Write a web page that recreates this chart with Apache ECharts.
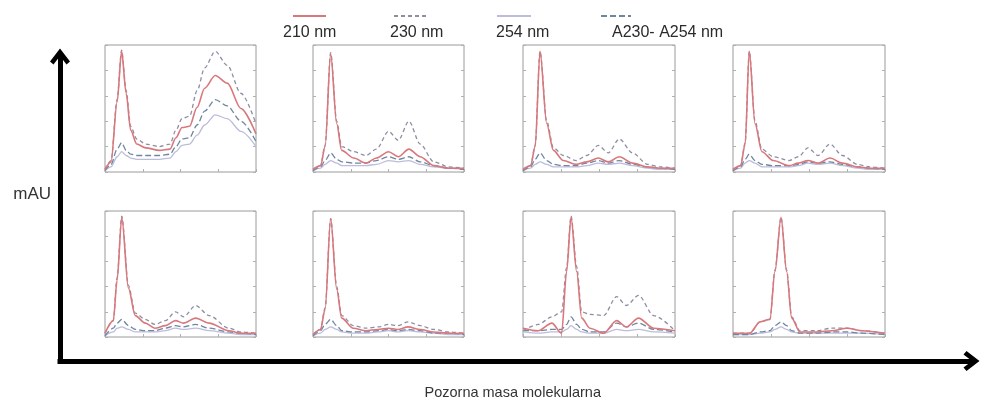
<!DOCTYPE html>
<html lang="en">
<head>
<meta charset="UTF-8">
<script src="https://cdn.jsdelivr.net/npm/echarts@6/dist/echarts.min.js"></script>
<title>mAU</title>
<style>html,body{margin:0;padding:0;background:#fff;}</style>
</head>
<body>
<div id="main" style="width:984px;height:405px;"></div>
<script type="text/javascript">
var seriesNames = ['210 nm', '230 nm', '254 nm', 'A230- A254 nm'];

// panel 1 (gore lijevo)
var x1 = [0, 4, 8, 11, 14, 17, 21, 27, 36, 43, 47, 51, 56, 61, 66, 73, 81, 90, 100];
var r1 = [2, 8, 55, 95, 62, 33, 22, 19, 17, 18, 27, 35, 36, 51, 66, 76, 70, 50, 30];
var g1 = [2, 9, 57, 96, 64, 36, 26, 22, 20, 22, 33, 42, 44, 64, 82, 95, 84, 62, 38];
var l1 = [1, 4, 12, 16, 13, 11, 10, 10, 10, 11, 16, 21, 22, 29, 37, 45, 42, 32, 20];
var d1 = [1, 6, 18, 23, 17, 14, 13, 13, 13, 14, 20, 26, 27, 37, 48, 57, 52, 40, 24];
// panel 2
var x2 = [0, 5, 8, 11.7, 15.7, 19, 27, 35, 42, 50, 56.5, 63.5, 71, 80, 90, 100];
var r2 = [2, 5, 20, 93, 38, 17, 11, 7, 11, 16, 12, 18, 12, 5, 3, 3];
var g2 = [2, 5, 21, 94, 40, 20, 16, 13, 18, 32, 25, 40, 22, 8, 4, 3];
var l2 = [1, 3, 6, 9, 7, 5, 5, 5, 6, 9, 8, 9, 6, 4, 3, 2];
var d2 = [1, 4, 9, 15, 10, 8, 7, 7, 9, 12, 10, 12, 8, 5, 3, 2];
// panel 3
var x3 = [0, 5, 8, 11.2, 15.6, 20, 26.5, 35, 42, 49.6, 56, 63.4, 72, 82, 90, 100];
var r3 = [2, 5, 20, 95, 38, 17, 9, 6, 8, 11, 8, 12, 7, 4, 3, 3];
var g3 = [2, 5, 21, 95, 40, 19, 13, 9, 13, 21, 15, 26, 15, 6, 4, 3];
var l3 = [1, 3, 6, 8, 6, 4, 4, 4, 5, 7, 6, 7, 5, 3, 2, 2];
var d3 = [1, 4, 10, 15, 9, 6, 5, 5, 7, 9, 7, 9, 6, 4, 3, 2];
// panel 4
var x4 = [0, 5, 8, 10.7, 14.5, 19, 26.5, 37, 43, 49.3, 56, 63.8, 72, 82, 90, 100];
var r4 = [2, 5, 22, 95, 38, 16, 9, 5, 7, 9, 7, 11, 7, 4, 3, 3];
var g4 = [2, 5, 23, 95, 40, 18, 12, 9, 12, 19, 13, 22, 13, 6, 4, 3];
var l4 = [1, 3, 7, 9, 7, 4, 4, 4, 5, 7, 6, 7, 5, 3, 2, 2];
var d4 = [1, 4, 10, 14, 9, 6, 5, 5, 6, 8, 7, 8, 6, 4, 3, 2];
// panel 5 (dolje lijevo)
var x5 = [0, 5.5, 8, 11.1, 15.5, 20, 26.7, 33, 40, 46.7, 52, 60, 69, 82, 90, 100];
var r5 = [3, 13, 45, 95, 39, 17, 11, 7, 9, 13, 11, 15, 11, 5, 3, 3];
var g5 = [3, 13, 47, 96, 41, 19, 14, 10, 13, 20, 16, 25, 17, 7, 4, 3];
var l5 = [1, 4, 7, 8, 6, 4, 4, 4, 5, 7, 6, 7, 5, 3, 2, 2];
var d5 = [1, 7, 11, 14, 9, 6, 5, 5, 7, 9, 8, 10, 7, 4, 3, 2];
// panel 6
var x6 = [0, 5, 8, 11.7, 15.7, 19, 26.7, 35, 43, 50, 56, 63, 71, 80, 90, 100];
var r6 = [2, 6, 22, 94, 38, 15, 7, 5, 6, 7, 6, 8, 6, 4, 3, 3];
var g6 = [2, 6, 23, 94, 40, 17, 9, 7, 8, 10, 9, 12, 9, 6, 4, 3];
var l6 = [1, 3, 6, 8, 6, 4, 3, 3, 4, 5, 4, 5, 4, 3, 2, 2];
var d6 = [1, 5, 10, 14, 9, 5, 4, 4, 5, 6, 5, 6, 5, 3, 3, 2];
// panel 7
var x7 = [0, 10, 19, 25.4, 28.7, 31.6, 35.3, 38.6, 44, 53, 61.6, 68, 76, 86, 100];
var r7 = [7, 5, 11, 3, 52, 95, 52, 15, 7, 3, 13, 8, 15, 7, 5];
var g7 = [5, 10, 16, 20, 55, 96, 56, 20, 18, 17, 32, 25, 33, 17, 5];
var l7 = [4, 3, 4, 4, 6, 9, 6, 4, 3, 3, 6, 5, 6, 4, 3];
var d7 = [5, 5, 6, 6, 10, 16, 10, 6, 4, 4, 11, 8, 11, 6, 4];
// panel 8
var x8 = [0, 11, 17.8, 24.3, 27.6, 31.6, 35.3, 38.6, 44, 55, 65, 75, 85, 100];
var r8 = [3, 3, 12, 14, 52, 95, 52, 15, 4, 4, 5, 7, 5, 3];
var g8 = [3, 3, 12, 14, 53, 95, 53, 16, 5, 5, 7, 7, 5, 3];
var l8 = [2, 2, 3, 4, 6, 8, 6, 4, 3, 3, 3, 3, 3, 2];
var d8 = [2, 2, 4, 5, 9, 12, 9, 5, 3, 3, 4, 4, 3, 2];

var panels = [
    {x: x1, y: [r1, g1, l1, d1]},
    {x: x2, y: [r2, g2, l2, d2]},
    {x: x3, y: [r3, g3, l3, d3]},
    {x: x4, y: [r4, g4, l4, d4]},
    {x: x5, y: [r5, g5, l5, d5]},
    {x: x6, y: [r6, g6, l6, d6]},
    {x: x7, y: [r7, g7, l7, d7]},
    {x: x8, y: [r8, g8, l8, d8]}
];

var colors = ['#d9787c', '#8e8ea2', '#bcbcdc', '#6f86a0'];
var dashes = ['solid', [4, 3], 'solid', [6, 3]];
var zs = [5, 4, 2, 3];
var fontFam = '"Liberation Sans", Arial, sans-serif';

var colLeft = [105, 313, 523, 733];
var colWidth = [151, 151, 152, 152];
var rowTop = [45, 211];
var rowHeight = [127, 126];

var tickStyle = {show: true, inside: true, length: 3, lineStyle: {color: '#b0b0b0'}};
var grids = [], xAxes = [], yAxes = [], rightAxes = [], series = [];
for (var p = 0; p < panels.length; p++) {
    var c = p % 4, r = Math.floor(p / 4);
    grids.push({
        left: colLeft[c], top: rowTop[r], width: colWidth[c], height: rowHeight[r],
        show: true, borderColor: '#9a9a9a', borderWidth: 1
    });
    xAxes.push({
        type: 'value', gridIndex: p, min: 0, max: 100, interval: 25,
        axisLine: {show: false}, axisTick: tickStyle,
        axisLabel: {show: false}, splitLine: {show: false}
    });
    yAxes.push({
        type: 'value', gridIndex: p, min: 0, max: 100, interval: 20,
        axisLine: {show: false}, axisTick: tickStyle,
        axisLabel: {show: false}, splitLine: {show: false}
    });
    // kvacice na desnom rubu
    rightAxes.push({
        type: 'value', gridIndex: p, position: 'right', min: 0, max: 100, interval: 20,
        axisLine: {show: false}, axisTick: tickStyle,
        axisLabel: {show: false}, splitLine: {show: false}
    });
    for (var s = 0; s < 4; s++) {
        var pts = [];
        for (var i = 0; i < panels[p].x.length; i++) {
            pts.push([panels[p].x[i], panels[p].y[s][i]]);
        }
        series.push({
            name: seriesNames[s], type: 'line', xAxisIndex: p, yAxisIndex: p,
            data: pts, symbol: 'none', smooth: 0.3, smoothMonotone: 'x',
            color: colors[s], z: zs[s],
            lineStyle: {color: colors[s], width: s == 0 ? 1.6 : 1.3, type: dashes[s]}
        });
    }
}
yAxes = yAxes.concat(rightAxes);

// velike osi sa strelicama
var chevron = 'path://M10,0 L20,13 L16.5,16 L10,7.5 L3.5,16 L0,13 Z';
grids.push({left: 60, top: 56.5, width: 911.5, height: 305.5, show: false});
xAxes.push({
    type: 'value', gridIndex: 8, min: 0, max: 1,
    axisLine: {show: true, onZero: false, symbol: ['none', chevron], symbolSize: [20, 17],
        lineStyle: {color: '#000', width: 5, cap: 'square'}},
    axisTick: {show: false}, axisLabel: {show: false}, splitLine: {show: false},
    name: 'Pozorna masa molekularna', nameLocation: 'middle', nameGap: 24,
    nameTextStyle: {fontSize: 14.5, color: '#333', fontFamily: fontFam, padding: [0, 6, 0, 0]}
});
yAxes.push({
    type: 'value', gridIndex: 8, min: 0, max: 1,
    axisLine: {show: true, onZero: false, symbol: ['none', chevron], symbolSize: [20, 17],
        lineStyle: {color: '#000', width: 5, cap: 'square'}},
    axisTick: {show: false}, axisLabel: {show: false}, splitLine: {show: false},
    name: 'mAU', nameLocation: 'middle', nameRotate: 0, nameGap: 9,
    nameTextStyle: {fontSize: 17, color: '#333', fontFamily: fontFam,
        verticalAlign: 'bottom', padding: [0, 0, 6, 0]}
});

// legenda: linija iznad teksta
var iconLeft = [292, 393, 496, 600];
var iconWidth = [33, 35, 34, 30];
var textLeft = [278, 385, 491, 607];
var legends = [];
for (var k = 0; k < 4; k++) {
    legends.push({
        data: [seriesNames[k]], left: iconLeft[k], top: 13, padding: 0,
        itemWidth: iconWidth[k], itemHeight: 6, selectedMode: false,
        itemStyle: {color: 'rgba(0,0,0,0)', borderWidth: 0, opacity: 0},
        formatter: function () { return ''; }
    });
    legends.push({
        data: [seriesNames[k]], left: textLeft[k], top: 25, padding: 0,
        icon: 'none', itemWidth: 0, itemHeight: 14, selectedMode: false,
        textStyle: {fontSize: 16, color: '#2b2b2b', fontFamily: fontFam}
    });
}

var myChart = echarts.init(document.getElementById('main'));
var option = {
    backgroundColor: '#fff',
    animation: false,
    legend: legends,
    grid: grids,
    xAxis: xAxes,
    yAxis: yAxes,
    series: series
};
myChart.setOption(option);
</script>
</body>
</html>
